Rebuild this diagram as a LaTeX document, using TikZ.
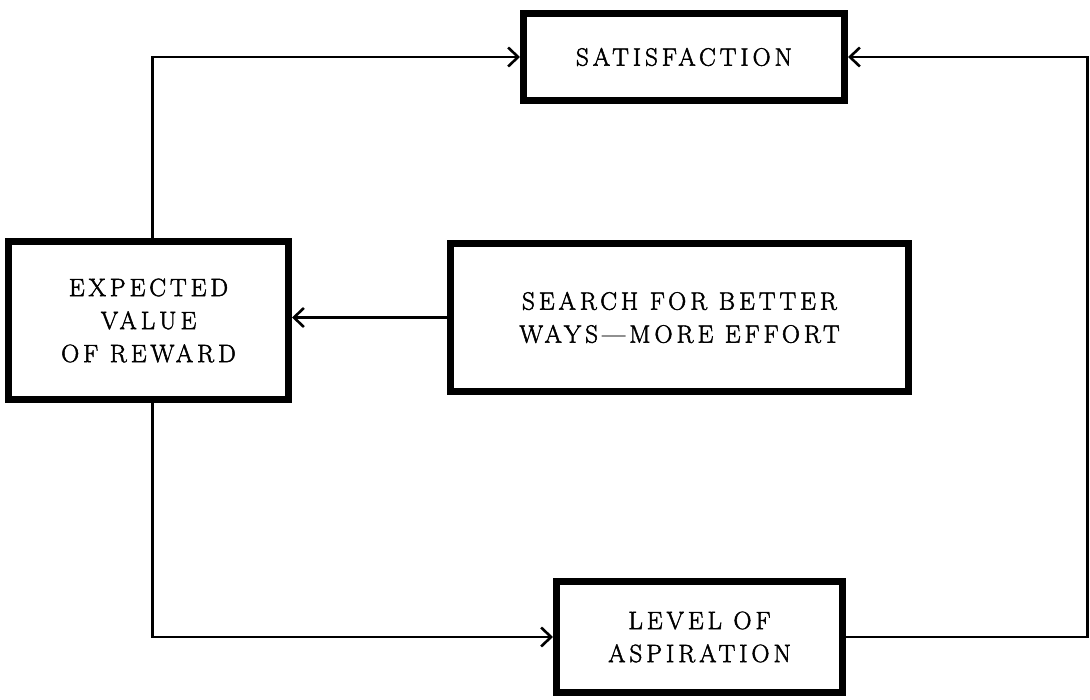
\documentclass[tikz,border=0pt]{standalone}
\usepackage{fontspec}
\usepackage{tikz}
\usetikzlibrary{arrows.meta,positioning}
\newfontfamily\boxfont[LetterSpace=16,FakeBold=2]{Latin Modern Roman}

\begin{document}
\begin{tikzpicture}[
      x=1pt, y=-1pt,
      mybox/.style={
         rectangle,
         draw=black,
         line width=7pt,
         fill=white,
         align=center,
         inner sep=0pt,
         font=\boxfont\fontsize{25}{33}\selectfont},
      myarrow/.style={line width=2.6pt,-{Straight Barb[length=10pt,width=19pt]}},
      myline/.style={line width=2.6pt}
      ]
      \useasboundingbox (0,0) rectangle (1090,700);
      \node[mybox,minimum width=321pt,minimum height=87pt] (sat) at (684,57) {SATISFACTION};
      \node[mybox,minimum width=280pt,minimum height=158pt] (reward) at (148.5,320.5) {EXPECTED\\VALUE\\OF REWARD};
      \node[mybox,minimum width=458pt,minimum height=148pt] (search) at (679.5,317.5) {SEARCH FOR BETTER\\WAYS\,—\,MORE EFFORT};
      \node[mybox,minimum width=286pt,minimum height=111pt] (aspir) at (699.5,637) {LEVEL OF\\ASPIRATION};
      \coordinate (corner) at (1087.5,57);

      % feedback loop
      \draw[myarrow] ([xshift=4pt]reward.north) |- (sat.west);
      \draw[myarrow] ([xshift=4pt]reward.south) |- (aspir.west);
      \draw[myarrow] (aspir.east) -| (corner) -- (sat.east);
      \draw[myarrow] (search.west) -- (search.west -| reward.east);
\end{tikzpicture}
\end{document}
